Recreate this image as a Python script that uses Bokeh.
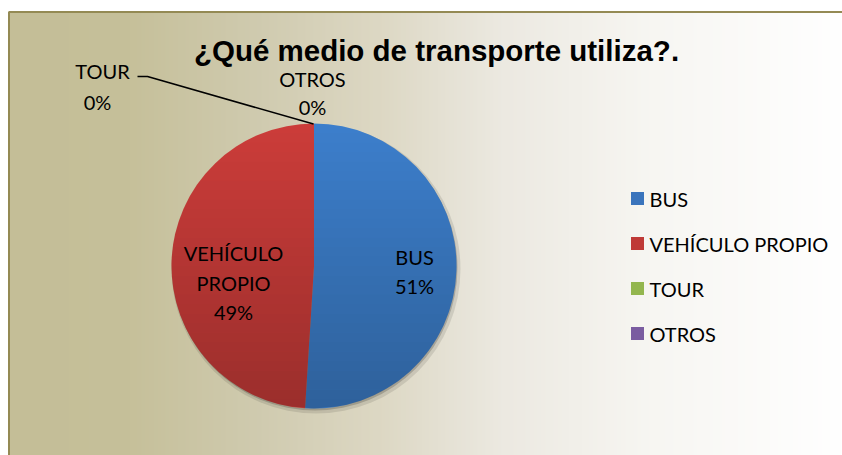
import numpy as np
from bokeh.plotting import figure
from bokeh.models import Range1d
from bokeh.core.properties import value
from bokeh.embed import file_html
from bokeh.resources import INLINE

# ---- data ----
title = "¿Qué medio de transporte utiliza?."
categories = ["BUS", "VEHÍCULO PROPIO", "TOUR", "OTROS"]
percentages = [51, 49, 0, 0]
slice_colors = ["#3D7FCC", "#CC3D3A", "#9BBB59", "#8064A2"]
legend_colors = ["#3A74BC", "#BF3A37", "#93B64E", "#7A5CA0"]

W, H = 842, 455
def Y(px):  # page pixel y -> data y
    return H - px

p = figure(width=W, height=H, output_backend="svg", toolbar_location=None,
           x_range=Range1d(0, W), y_range=Range1d(0, H),
           min_border=0, border_fill_color="white", background_fill_color="white",
           outline_line_color=None)
p.axis.visible = False
p.grid.visible = False

# background gradient (left tan -> right white)
stops_x = [8, 130, 250, 380, 500, 650, 842]
stops_c = [(196, 190, 151), (198, 192, 154), (207, 202, 174), (221, 216, 196),
           (236, 233, 225), (247, 246, 242), (255, 255, 255)]
xs = np.arange(9, 842, 4)
lefts, rights, cols = [], [], []
for x0 in xs:
    xc = x0 + 2
    r = np.interp(xc, stops_x, [c[0] for c in stops_c])
    g = np.interp(xc, stops_x, [c[1] for c in stops_c])
    b = np.interp(xc, stops_x, [c[2] for c in stops_c])
    lefts.append(x0); rights.append(x0 + 4.5)
    cols.append("#%02x%02x%02x" % (int(r), int(g), int(b)))
p.quad(left=lefts, right=rights, top=Y(12), bottom=0, fill_color=cols, line_color=None)

# chart area border
p.segment(x0=[8, 8.5], y0=[Y(11.5), Y(11.5)], x1=[842, 8.5], y1=[Y(11.5), 0],
          line_color="#948A54", line_width=2)

# title
p.text(x=[436], y=[Y(50)], text=[title], text_font=value("Liberation Sans"),
       text_font_style="bold", text_font_size="29.5px", text_color="black",
       text_align="center", text_baseline="middle")

# pie
cx, cy, R = 313.5, Y(265.5), 142.5
vals = np.array(percentages, dtype=float)
frac = vals / vals.sum()
ends = np.cumsum(frac)
starts = ends - frac
start_ang = np.pi / 2 - starts * 2 * np.pi
end_ang = np.pi / 2 - ends * 2 * np.pi
nz = frac > 0

# shadow
p.circle(x=[cx + 2], y=[cy - 3], radius=R + 2, fill_color="black", fill_alpha=0.10, line_color=None)
p.circle(x=[cx + 1], y=[cy - 2], radius=R, fill_color="black", fill_alpha=0.18, line_color=None)

p.wedge(x=cx, y=cy, radius=R, start_angle=start_ang[nz], end_angle=end_ang[nz],
        direction="clock", fill_color=[c for c, k in zip(slice_colors, nz) if k],
        line_color=None)

# vertical shading over the pie (darker towards the bottom)
nb = 30
edges = np.linspace(cy + R, cy - R, nb + 1)
bxs, bys, balpha = [], [], []
for i in range(nb):
    y1, y2 = edges[i], edges[i + 1]
    yy = np.linspace(y1, y2, 6)
    half = np.sqrt(np.clip(R**2 - (yy - cy) ** 2, 0, None))
    bxs.append(list(cx - half) + list((cx + half)[::-1]))
    bys.append(list(yy) + list(yy[::-1]))
    t = (i + 0.5) / nb  # 0 top -> 1 bottom
    balpha.append(0.24 * t)
p.patches(xs=bxs, ys=bys, fill_color="black", fill_alpha=balpha, line_color=None)

lab_font = value("Lato")
lab_size = "20px"
def label(x, ypx, t):
    p.text(x=[x], y=[Y(ypx)], text=[t], text_font=lab_font, text_font_size=lab_size,
           text_color="black", text_align="center", text_baseline="middle")

pct = ["%d%%" % v for v in percentages]
# BUS
label(414, 256, categories[0]); label(414, 285, pct[0])
# VEHÍCULO PROPIO
label(233, 252, "VEHÍCULO"); label(233, 282, "PROPIO"); label(233, 311, pct[1])
# TOUR
label(102, 70, categories[2]); label(97, 101, pct[2])
# OTROS
label(312, 78, categories[3]); label(312, 106, pct[3])

# leader line for TOUR
p.line(x=[137, 147, 313], y=[Y(76), Y(76), Y(123.5)], line_color="black", line_width=1.6)

# legend
leg_y = [198, 243, 288, 333]
p.rect(x=[637] * 4, y=[Y(v) for v in leg_y], width=13, height=13,
       fill_color=legend_colors, line_color=None)
p.text(x=[649] * 4, y=[Y(v) for v in leg_y], text=categories, text_font=lab_font,
       text_font_size=lab_size, text_color="black", text_align="left", text_baseline="middle")

open("out.html", "w").write(file_html(p, INLINE))
